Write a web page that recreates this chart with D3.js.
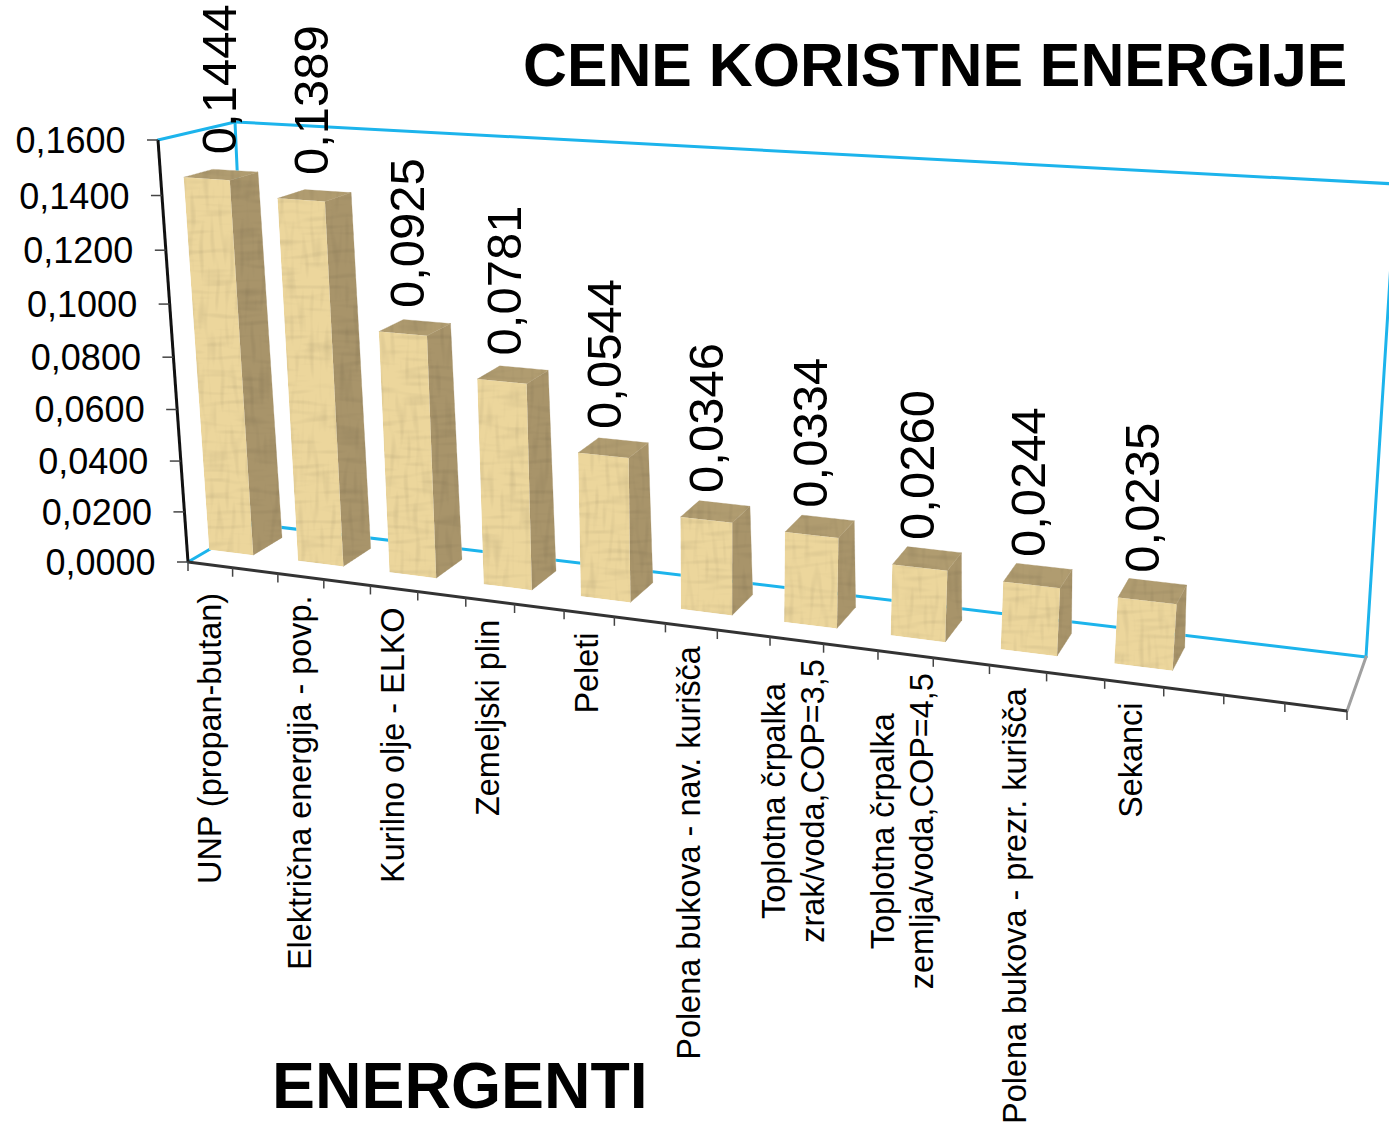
<!DOCTYPE html>
<html><head><meta charset="utf-8">
<script src="https://cdnjs.cloudflare.com/ajax/libs/d3/7.8.5/d3.min.js"></script>
<style>html,body{margin:0;padding:0;background:#fff;overflow:hidden}svg{display:block}text{font-family:"Liberation Sans",Arial,sans-serif;fill:#000}</style>
</head><body><svg id="c" width="1389" height="1133"></svg>
<script>
const chartTitle = "CENE KORISTNE ENERGIJE";
const axisTitle = "ENERGENTI";
const categories = ["UNP (propan-butan)","Električna energija - povp.","Kurilno olje - ELKO","Zemeljski plin","Peleti","Polena bukova - nav. kurišča","Toplotna črpalka\nzrak/voda,COP=3,5","Toplotna črpalka\nzemlja/voda,COP=4,5","Polena bukova - prezr. kurišča","Sekanci"];
const values = [0.1444,0.1389,0.0925,0.0781,0.0544,0.0346,0.0334,0.0260,0.0244,0.0235];
const valueLabels = ["0,1444","0,1389","0,0925","0,0781","0,0544","0,0346","0,0334","0,0260","0,0244","0,0235"];
const yTicks = [0,0.02,0.04,0.06,0.08,0.1,0.12,0.14,0.16];
const slotCount = 22;

// frame corners: [floor-left, floor-right, top-right, top-left]
const frontQuad = [[188,562],[1347,711],[1395,214],[158,140]];
const backQuad  = [[253,524],[1366,657],[1396,184],[235,122]];

function homography(q){
  const [[x0,y0],[x1,y1],[x2,y2],[x3,y3]] = q;
  const dx1=x1-x2,dx2=x3-x2,sx=x0-x1+x2-x3,dy1=y1-y2,dy2=y3-y2,sy=y0-y1+y2-y3;
  const den=dx1*dy2-dx2*dy1, g=(sx*dy2-dx2*sy)/den, h=(dx1*sy-sx*dy1)/den;
  const a=x1-x0+g*x1,b=x3-x0+h*x3,d=y1-y0+g*y1,e=y3-y0+h*y3;
  return (u,v)=>{const w=g*u+h*v+1;return [(a*u+b*v+x0)/w,(d*u+e*v+y0)/w];};
}
const Hf=homography(frontQuad), Hb=homography(backQuad);
const uScale=d3.scaleBand().domain(d3.range(slotCount)).range([0,1]).padding(0);
const vScale=d3.scaleLinear().domain([0,0.16]).range([0,1]);
function P(u,val,depth){const a=Hf(u,vScale(val)),b=Hb(u,vScale(val));return [a[0]+(b[0]-a[0])*depth,a[1]+(b[1]-a[1])*depth];}
const d0=val=>0.325-0.03*vScale(val), d1=val=>val===0?0.78:0.72-0.04*vScale(val);
const line=d3.line();
const svg=d3.select("#c");

const defs=svg.append("defs");
function woodFilter(id,fx,fy,seed){
  const f=defs.append("filter").attr("id",id).attr("x","-5%").attr("y","-5%").attr("width","110%").attr("height","110%").attr("color-interpolation-filters","sRGB");
  const mat="0.2 0 0 0 0.9  0.2 0 0 0 0.9  0.2 0 0 0 0.9  0 0 0 0 1";
  f.append("feTurbulence").attr("type","fractalNoise").attr("baseFrequency",`${fx} ${fy}`).attr("numOctaves",1).attr("seed",seed).attr("result","n1");
  f.append("feColorMatrix").attr("in","n1").attr("type","matrix").attr("values",mat).attr("result","g1");
  f.append("feTurbulence").attr("type","fractalNoise").attr("baseFrequency",`${fy} ${fx}`).attr("numOctaves",1).attr("seed",seed+3).attr("result","n2");
  f.append("feColorMatrix").attr("in","n2").attr("type","matrix").attr("values",mat).attr("result","g2");
  f.append("feBlend").attr("in","SourceGraphic").attr("in2","g1").attr("mode","multiply").attr("result","b1");
  f.append("feBlend").attr("in","b1").attr("in2","g2").attr("mode","multiply").attr("result","b2");
  f.append("feComposite").attr("in","b2").attr("in2","SourceGraphic").attr("operator","in").attr("result","c");
  f.append("feGaussianBlur").attr("in","c").attr("stdDeviation",0.7);
}
woodFilter("wood",0.03,0.2,4);

const blue="#1cb4ec";
const wall=svg.append("g").attr("fill","none").attr("stroke-linecap","round");
function seg(g,a,b,color,w){g.append("path").attr("d",line([a,b])).attr("stroke",color).attr("stroke-width",w);}
const FL=P(0,0,0),FR=P(1,0,0),BL=P(0,0,1),BR=P(1,0,1),BLT=P(0,0.16,1),BRT=P(1,0.16,1),FLT=P(0,0.16,0);
seg(wall,FL,BL,blue,3);
seg(wall,BL,BR,blue,3);
seg(wall,BL,BLT,blue,3);
seg(wall,BLT,BRT,blue,3);
seg(wall,BR,BRT,blue,3);
seg(wall,FLT,BLT,blue,3);
seg(wall,FR,BR,"#a0a0a0",3);

// axes
const ax=svg.append("g").attr("fill","none");
seg(ax,FL,FLT,"#111",3);
seg(ax,FL,FR,"#333",3);
yTicks.forEach(t=>{const p=P(0,t,0);seg(ax,[p[0]-11,p[1]],p,"#444",1.5);});
d3.range(slotCount+1).forEach(i=>{const p=P(i/slotCount,0,0);seg(ax,p,[p[0],p[1]+9],"#444",1.5);});

// y tick labels
svg.append("g").selectAll("text").data(yTicks).join("text")
  .attr("x",d=>P(0,d,0)[0]-32.5).attr("y",d=>P(0,d,0)[1]+13)
  .attr("text-anchor","end").attr("font-size",36)
  .text(d=>d3.format(".4f")(d).replace(".",","));

// bars
const bars=svg.append("g");
values.forEach((val,i)=>{
  const slot=i*2, u0=uScale(slot), u1=u0+uScale.bandwidth();
  const a=P(u0,0,d0(0)),b=P(u1,0,d0(0)),c=P(u1,val,d0(val)),e=P(u0,val,d0(val));
  const b2=P(u1,0,d1(0)),c2=P(u1,val,d1(val)),e2=P(u0,val,d1(val));
  const g=bars.append("g").attr("filter","url(#wood)");
  g.append("path").attr("d",line([b,b2,c2,c])+"Z").attr("fill","#a8946a").attr("stroke","#a8946a").attr("stroke-width",0.6);
  g.append("path").attr("d",line([e,c,c2,e2])+"Z").attr("fill","#b09c70").attr("stroke","#b09c70").attr("stroke-width",0.6);
  g.append("path").attr("d",line([a,b,c,e])+"Z").attr("fill","#ecd69c");
});

// value labels
values.forEach((val,i)=>{
  const slot=i*2,uc=uScale(slot)+uScale.bandwidth()/2;
  const p=P(uc,val,0.53+0.1*Math.pow(vScale(val),3));
  svg.append("text").attr("transform",`translate(${p[0]+6.5},${p[1]-18}) rotate(-90)`)
    .attr("font-size",49).text(valueLabels[i]);
});

// category labels
const labelNudge=[9,0,0,0,0,0,0,0,0,0];
categories.forEach((c,i)=>{
  const slot=i*2,uc=uScale(slot)+uScale.bandwidth()/2;
  const p=P(uc,0,0);
  const g=svg.append("g");
  const t=g.append("text").attr("text-anchor","middle").attr("font-size",32.4);
  const lines=c.split("\n");
  lines.forEach((s,k)=>t.append("tspan").attr("x",0).attr("y",(k-(lines.length-1)/2)*39+11).text(s));
  const w=t.node().getBBox().width;
  g.attr("transform",`translate(${p[0]-3+Math.max(0,3-0.55*i)},${p[1]+19+labelNudge[i]+w/2}) rotate(-90)`);
});

svg.append("text").attr("x",523).attr("y",85.5).attr("font-size",60.8).attr("font-weight",700).text(chartTitle);
svg.append("text").attr("x",272).attr("y",1107.5).attr("font-size",64.4).attr("font-weight",700).text(axisTitle);
</script></body></html>
